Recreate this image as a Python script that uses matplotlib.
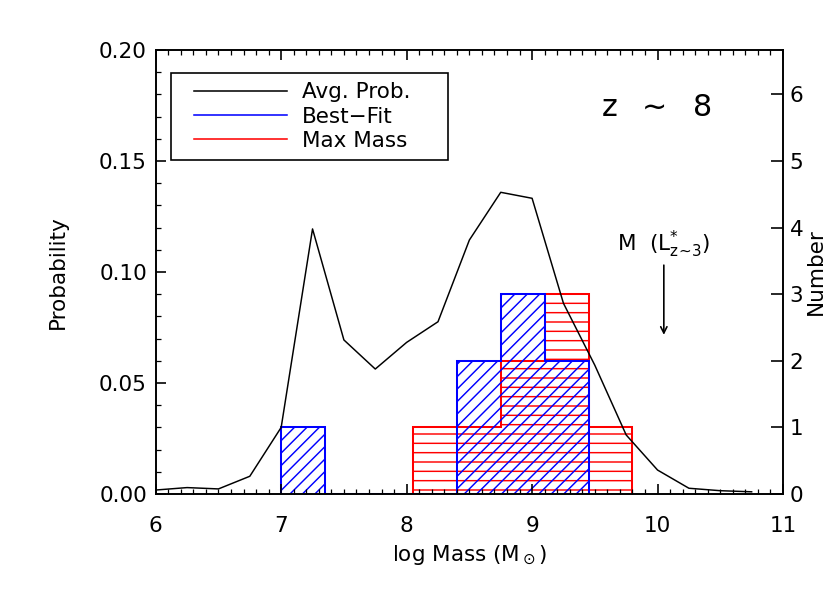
import numpy as np
import matplotlib
matplotlib.use('Agg')
import matplotlib.pyplot as plt
from matplotlib.lines import Line2D
from matplotlib.patches import Rectangle
from matplotlib.ticker import MultipleLocator

# average probability curve (left axis)
massGrid = [6.00, 6.25, 6.50, 6.75, 7.00, 7.25, 7.50, 7.75, 8.00, 8.25,
            8.50, 8.75, 9.00, 9.25, 9.50, 9.75, 10.00, 10.25, 10.50, 10.75]
avgProb = [0.0018, 0.0029, 0.0023, 0.0080, 0.0300, 0.1194, 0.0694, 0.0563, 0.0683, 0.0776,
           0.1144, 0.1359, 0.1332, 0.0859, 0.0580, 0.0266, 0.0108, 0.0026, 0.0015, 0.0010]

# histograms (right axis, number of objects)
bestFitEdges = [7.00, 7.35, 7.70, 8.05, 8.40, 8.75, 9.10, 9.45]
bestFitCounts = [1, 0, 0, 0, 2, 3, 2]
maxMassEdges = [8.05, 8.40, 8.75, 9.10, 9.45, 9.80]
maxMassCounts = [1, 1, 2, 3, 1]

legendLabels = ['Avg. Prob.', 'Best\u2212Fit', 'Max Mass']
mStarMass = 10.05

# dpi picked so the hatch spacing comes out like the original
DPI = 112.5
FS = 13.8

plt.rcParams['font.family'] = 'DejaVu Sans'
plt.rcParams['mathtext.default'] = 'regular'
plt.rcParams['hatch.linewidth'] = 0.93
plt.rcParams['axes.linewidth'] = 1.05

fig = plt.figure(figsize=(830 / DPI, 593 / DPI), dpi=DPI)
ax = fig.add_axes([0.1876, 0.1669, 0.7558, 0.7488])
ax2 = ax.twinx()

# histograms
bfEdges = np.array(bestFitEdges)
mmEdges = np.array(maxMassEdges)
ax2.hist((mmEdges[:-1] + mmEdges[1:]) / 2, bins=mmEdges, weights=maxMassCounts,
         histtype='step', color='red', hatch='--', linewidth=1.3)
ax2.hist((bfEdges[:-1] + bfEdges[1:]) / 2, bins=bfEdges, weights=bestFitCounts,
         histtype='step', color='blue', hatch='///', linewidth=1.3)

# probability curve on top
ax.plot(massGrid, avgProb, color='black', linewidth=0.95)
ax.set_zorder(ax2.get_zorder() + 1)
ax.patch.set_visible(False)

ax.set_xlim(6, 11)
ax.set_ylim(0, 0.20)
ax2.set_ylim(0, 0.20 / 0.03)

ax.xaxis.set_major_locator(MultipleLocator(1))
ax.xaxis.set_minor_locator(MultipleLocator(0.1))
ax.yaxis.set_major_locator(MultipleLocator(0.05))
ax.yaxis.set_minor_locator(MultipleLocator(0.01))
ax.tick_params(which='both', direction='in', top=True, right=False, labelsize=FS)
ax.tick_params(axis='x', which='major', length=6.4, width=1.05, pad=13.8)
ax.tick_params(axis='y', which='major', length=6.4, width=1.05, pad=5.6)
ax.tick_params(which='minor', length=3.1, width=0.8)

ax2.yaxis.set_major_locator(MultipleLocator(1))
ax2.tick_params(axis='y', direction='in', length=7.7, width=1.05, pad=4.3, labelsize=FS)

ax.set_xlabel(r'log Mass (M$_\odot$)', fontsize=FS)
ax.set_ylabel('Probability', fontsize=FS)
ax2.set_ylabel('Number', fontsize=FS)
ax.xaxis.set_label_coords(0.5, -0.112)
ax.yaxis.set_label_coords(-0.140, 0.5)
ax2.yaxis.set_label_coords(1.037, 0.5)

# annotations
ax.text(9.99, 0.174, r'z  $\sim$  8', fontsize=19.3, ha='center', va='center')
ax.text(mStarMass, 0.1125, r'M  $(L^{*}_{z\!\sim\!3})$', fontsize=FS, ha='center', va='center')
ax.annotate('', xy=(mStarMass, 0.0703), xytext=(mStarMass, 0.1045),
            arrowprops=dict(arrowstyle='->', color='black', lw=1.05))

# legend: entries without frame, box drawn separately to match the original
handles = [Line2D([], [], color='black', linewidth=1.0),
           Line2D([], [], color='blue', linewidth=1.0),
           Line2D([], [], color='red', linewidth=1.0)]
leg = ax.legend(handles, legendLabels, loc='upper left', bbox_to_anchor=(0.0611, 0.927),
                borderaxespad=0, borderpad=0, fontsize=FS, frameon=False,
                handlelength=4.3, handletextpad=0.72, labelspacing=0.19)
box = Rectangle((0.0244, 0.752), 0.466 - 0.0244, 0.948 - 0.752, transform=ax.transAxes,
                fill=False, edgecolor='black', linewidth=1.05, zorder=5)
ax.add_patch(box)

fig.savefig('out.png', dpi=DPI)
